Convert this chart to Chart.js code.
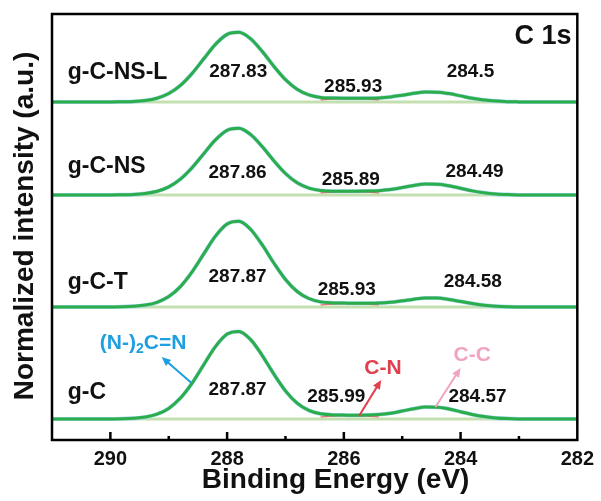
<!DOCTYPE html>
<html>
<head>
<meta charset="utf-8">
<script src="https://cdn.jsdelivr.net/npm/chart.js@4/dist/chart.umd.min.js"></script>
<style>
  html, body { margin: 0; padding: 0; background: #fff; }
  #wrap { width: 601px; height: 501px; }
</style>
</head>
<body>
<div id="wrap"><canvas id="xpsChart"></canvas></div>
<script>
// binding energy grid (eV)
const energies = [291.0, 290.8, 290.6, 290.4, 290.2, 290.0, 289.8, 289.6, 289.4, 289.2,
                  289.0, 288.8, 288.6, 288.4, 288.2, 288.0, 287.8, 287.6, 287.4, 287.2,
                  287.0, 286.8, 286.6, 286.4, 286.2, 286.0, 285.8, 285.6, 285.4, 285.2,
                  285.0, 284.8, 284.6, 284.4, 284.2, 284.0, 283.8, 283.6, 283.4, 283.2,
                  283.0, 282.8, 282.6, 282.4, 282.2, 282.0];

const sampleNames = ["g-C-NS-L", "g-C-NS", "g-C-T", "g-C"];

// fitted C 1s envelopes, background subtracted
const fitNSL = [0, 0, 0, 0, 0, 0, 0.2, 0.5, 1.5, 3.8, 8.5, 16.6, 28.6, 43.2, 57.6, 67.6, 69.7, 63.4, 50.7, 35.8,
                22.4, 12.7, 7.1, 4.6, 3.9, 3.8, 3.8, 3.8, 4.1, 5.1, 6.8, 8.7, 9.9, 9.8, 8.4, 6.1, 3.8, 2.0, 0.9, 0.3,
                0.1, 0, 0, 0, 0, 0];
const fitNS  = [0, 0, 0, 0, 0, 0, 0.2, 0.5, 1.5, 3.7, 8.1, 15.9, 27.3, 41.3, 55.1, 64.7, 66.7, 60.6, 48.5, 34.3,
                21.5, 12.2, 6.9, 4.5, 3.8, 3.8, 3.8, 3.9, 4.3, 5.4, 7.4, 9.5, 10.9, 10.8, 9.2, 6.7, 4.1, 2.2, 1.0, 0.4,
                0.1, 0, 0, 0, 0, 0];
const fitT   = [0, 0, 0, 0, 0, 0.1, 0.2, 0.7, 1.9, 4.7, 10.4, 20.4, 35.1, 53.1, 70.8, 83.0, 85.7, 77.8, 62.3, 44.0,
                27.5, 15.5, 8.5, 5.1, 4.1, 3.9, 3.7, 3.7, 3.9, 4.7, 6.2, 7.8, 8.9, 8.9, 7.5, 5.5, 3.4, 1.8, 0.8, 0.3,
                0.1, 0, 0, 0, 0, 0];
const fitC   = [0, 0, 0, 0, 0, 0.1, 0.2, 0.7, 1.9, 4.8, 10.6, 20.9, 35.9, 54.3, 72.4, 84.9, 87.6, 79.6, 63.7, 45.0,
                28.1, 15.8, 8.6, 5.2, 4.1, 3.9, 3.8, 4.0, 4.5, 5.8, 8.0, 10.3, 11.9, 11.8, 10.0, 7.3, 4.5, 2.4, 1.1, 0.4,
                0.1, 0, 0, 0, 0, 0];

// C-N component (shown only where it peeks out)
const cnComponent = [null, null, null, null, null, null, null, null, null, null,
                     null, null, null, null, null, null, null, null, null, null,
                     null, null, null, 2.1, 2.9, 3.4, 3.4, 2.9, 2.1, null,
                     null, null, null, null, null, null, null, null, null, null,
                     null, null, null, null, null, null];

// peak position labels: [text, energy, intensity]
const peakTexts = [
  ["287.83", 287.81, 368], ["285.93", 285.84, 353], ["284.5", 283.83, 368],
  ["287.86", 287.82, 267], ["285.89", 285.88, 260], ["284.49", 283.76, 268],
  ["287.87", 287.82, 163], ["285.93", 285.95, 150], ["284.58", 283.79, 158],
  ["287.87", 287.82, 50],  ["285.99", 286.13, 43],  ["284.57", 283.71, 43]
];

const spectra = [fitNSL, fitNS, fitT, fitC];
const offsets = [338, 245, 133, 21];
const nameY = [367, 273, 157, 47];

const FONT = "'Liberation Sans', Arial, sans-serif";
Chart.defaults.font.family = FONT;

const datasets = [];
spectra.forEach((vals, i) => {
  const pts = energies.map((e, k) => ({ x: e, y: vals[k] + offsets[i] }));
  datasets.push({
    data: [{ x: 282, y: offsets[i] }, { x: 291, y: offsets[i] }],
    borderColor: "#c4e0b0", borderWidth: 3, order: 4
  });
  datasets.push({
    data: pts, borderColor: "#a3d5f3", borderWidth: 4, order: 3,
    cubicInterpolationMode: "monotone"
  });
  datasets.push({
    data: energies.map((e, k) => ({ x: e, y: cnComponent[k] === null ? null : cnComponent[k] + offsets[i] })),
    borderColor: "#e8707a", borderWidth: 1.2, order: 2,
    cubicInterpolationMode: "monotone"
  });
  datasets.push({
    data: pts, borderColor: "#2bae4a", borderWidth: 3, order: 1,
    cubicInterpolationMode: "monotone"
  });
});

function arrow(ctx, x0, y0, x1, y1, color) {
  const ang = Math.atan2(y1 - y0, x1 - x0);
  const L = 9, W = 4;
  ctx.strokeStyle = color;
  ctx.fillStyle = color;
  ctx.lineWidth = 2;
  ctx.beginPath();
  ctx.moveTo(x0, y0);
  ctx.lineTo(x1 - Math.cos(ang) * L * 0.8, y1 - Math.sin(ang) * L * 0.8);
  ctx.stroke();
  ctx.beginPath();
  ctx.moveTo(x1, y1);
  ctx.lineTo(x1 - Math.cos(ang) * L - Math.sin(ang) * W, y1 - Math.sin(ang) * L + Math.cos(ang) * W);
  ctx.lineTo(x1 - Math.cos(ang) * L + Math.sin(ang) * W, y1 - Math.sin(ang) * L - Math.cos(ang) * W);
  ctx.closePath();
  ctx.fill();
}

const decorPlugin = {
  id: "decor",
  afterDraw(chart) {
    const { ctx, chartArea: a, scales: { x, y } } = chart;
    ctx.save();

    // frame
    ctx.strokeStyle = "#000";
    ctx.lineWidth = 2.5;
    ctx.strokeRect(a.left, a.top, a.right - a.left, a.bottom - a.top);

    // inward ticks
    x.ticks.forEach(t => {
      const px = x.getPixelForValue(t.value);
      if (t.value === 282 || t.value === 291) return;
      const len = t.value % 2 === 0 ? 8 : 4;
      ctx.beginPath();
      ctx.moveTo(px, a.bottom);
      ctx.lineTo(px, a.bottom - len);
      ctx.stroke();
    });

    ctx.textBaseline = "middle";

    // sample names
    ctx.fillStyle = "#111";
    ctx.textAlign = "left";
    ctx.font = "bold 23px " + FONT;
    sampleNames.forEach((n, i) => {
      ctx.fillText(n, x.getPixelForValue(290.73), y.getPixelForValue(nameY[i]));
    });

    // peak positions
    ctx.textAlign = "center";
    ctx.font = "bold 19px " + FONT;
    peakTexts.forEach(([t, e, v]) => {
      ctx.fillText(t, x.getPixelForValue(e), y.getPixelForValue(v));
    });

    // C 1s
    ctx.textAlign = "right";
    ctx.font = "bold 27px " + FONT;
    ctx.fillText("C 1s", x.getPixelForValue(282.1), y.getPixelForValue(403));

    // assignments
    const blue = "#1d9fe2", red = "#e0404e", pink = "#f2a2c2";
    ctx.textAlign = "left";
    let tx = x.getPixelForValue(290.18);
    const ty = y.getPixelForValue(97);
    ctx.fillStyle = blue;
    ctx.font = "bold 21px " + FONT;
    ctx.fillText("(N-)", tx, ty);
    tx += ctx.measureText("(N-)").width;
    ctx.font = "bold 14px " + FONT;
    ctx.fillText("2", tx, ty + 6);
    tx += ctx.measureText("2").width;
    ctx.font = "bold 21px " + FONT;
    ctx.fillText("C=N", tx, ty);
    arrow(ctx, x.getPixelForValue(288.61), y.getPixelForValue(57),
               x.getPixelForValue(289.12), y.getPixelForValue(83), blue);

    ctx.textAlign = "center";
    ctx.fillStyle = red;
    ctx.fillText("C-N", x.getPixelForValue(285.33), y.getPixelForValue(72));
    arrow(ctx, x.getPixelForValue(285.74), y.getPixelForValue(24),
               x.getPixelForValue(285.36), y.getPixelForValue(60), red);

    ctx.fillStyle = pink;
    ctx.fillText("C-C", x.getPixelForValue(283.80), y.getPixelForValue(85));
    arrow(ctx, x.getPixelForValue(284.43), y.getPixelForValue(33),
               x.getPixelForValue(284.00), y.getPixelForValue(72), pink);

    // axis titles
    ctx.fillStyle = "#111";
    ctx.font = "bold 28px " + FONT;
    ctx.textAlign = "center";
    ctx.textBaseline = "alphabetic";
    ctx.fillText("Binding Energy (eV)", (a.left + a.right) / 2 + 21, 488);
    ctx.translate(25, (a.top + a.bottom) / 2 - 1);
    ctx.rotate(-Math.PI / 2);
    ctx.textBaseline = "middle";
    ctx.fillText("Normalized intensity (a.u.)", 0, 0);

    ctx.restore();
  }
};

new Chart(document.getElementById("xpsChart"), {
  type: "line",
  data: { datasets: datasets },
  options: {
    responsive: true,
    maintainAspectRatio: false,
    animation: false,
    layout: { padding: { left: 52, top: 14, right: 22, bottom: 0 } },
    elements: { point: { radius: 0 }, line: { tension: 0 } },
    plugins: { legend: { display: false }, tooltip: { enabled: false } },
    scales: {
      x: {
        type: "linear",
        reverse: true,
        min: 282,
        max: 291,
        afterFit(scale) { scale.height = 61; },
        grid: { display: false, drawTicks: false },
        border: { display: false },
        ticks: {
          stepSize: 1,
          autoSkip: false,
          maxRotation: 0,
          padding: 7,
          color: "#111",
          font: { size: 20, weight: "bold" },
          callback: v => (v % 2 === 0 ? v : "")
        }
      },
      y: {
        type: "linear",
        display: false,
        min: 0,
        max: 426
      }
    }
  },
  plugins: [decorPlugin]
});
</script>
</body>
</html>
